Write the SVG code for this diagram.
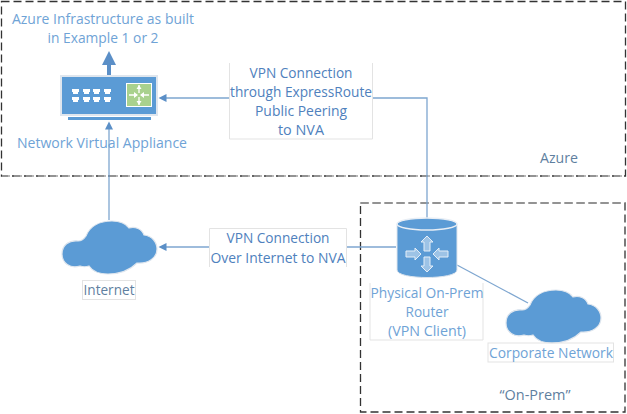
<svg xmlns="http://www.w3.org/2000/svg" width="627" height="414" viewBox="0 0 627 414">
<style>
text{font-family:"Open Sans","Liberation Sans",sans-serif;font-size:14.5px;text-anchor:middle}
.l{fill:#6fa3d6}
.d{fill:#4f81bd}
.g{fill:#5f7f9f}
.lf{fill:#fff}
.lb{fill:none;stroke:#e3e3e3;stroke-width:1}
.zone{fill:none;stroke-width:1.3;stroke-dasharray:8 4}
.c{fill:none;stroke:#7ea6d0;stroke-width:1.3}
.cloud{fill:#5b9bd5;stroke:#dfe6ee;stroke-width:1.2}
</style>
<defs>
<marker id="a" markerUnits="userSpaceOnUse" markerWidth="9" markerHeight="9" refX="0.500" refY="4.500" orient="auto"><path d="M8 0.500L0 4.500L8 8.500Z" fill="#5b8fc7" transform="rotate(180 4 4.500)"/></marker>
<path id="cl" class="cloud" d="M62 254C62 245 69 240 78 241C81 241 84 239 86 236C90 226 100 221 112 221C120 221 126 224 129 228C135 226 142 229 144 235C152 236 157 242 157 249C157 258 148 264 137 263C131 269 122 274 108 274C100 274 93 272 89 266C86 267 83 267 80 266C70 269 62 263 62 254Z"/>
</defs>
<g id="zones">
<rect class="zone" x="1.500" y="1.500" width="624" height="174.500" stroke="#333"/>
<rect class="zone" x="360.500" y="203" width="264.500" height="209" stroke="#333"/>
<path class="zone" d="M2 176H625M361 203H625" stroke="#a3a3a3"/>
</g>
<g id="connectors">
<path class="c" d="M109 220V129" marker-end="url(#a)"/>
<path class="c" d="M427 218V98H166" marker-end="url(#a)"/>
<path class="c" d="M396 247H166" marker-end="url(#a)"/>
<path class="c" d="M457 265L528 303"/>
<path d="M109 76V64" stroke="#5b8fc7" stroke-width="4" fill="none"/>
<path d="M102 65L109 51L116 65Z" fill="#5b8fc7"/>
</g>
<g id="label-vpn-er">
<rect class="lf" x="229.500" y="63" width="143" height="76"/>
<path class="lb" d="M229.500 63V139H372.500V63"/>
<text class="d" x="301" y="78" textLength="103" lengthAdjust="spacingAndGlyphs">VPN Connection</text>
<text class="d" x="301" y="97" textLength="142" lengthAdjust="spacingAndGlyphs">through ExpressRoute</text>
<text class="d" x="301" y="116" textLength="92" lengthAdjust="spacingAndGlyphs">Public Peering</text>
<text class="d" x="301" y="135" textLength="46" lengthAdjust="spacingAndGlyphs">to NVA</text>
</g>
<g id="label-vpn-inet">
<rect class="lf" x="209.500" y="228.500" width="137" height="38"/>
<path class="lb" d="M209.500 267V228.500H346.500V267"/>
<text class="d" x="278" y="243" textLength="103" lengthAdjust="spacingAndGlyphs">VPN Connection</text>
<text class="d" x="278" y="263" textLength="135" lengthAdjust="spacingAndGlyphs">Over Internet to NVA</text>
</g>
<g id="azure-title">
<text class="l" x="103" y="24" textLength="182" lengthAdjust="spacingAndGlyphs">Azure Infrastructure as built</text>
<text class="l" x="103" y="43" textLength="111" lengthAdjust="spacingAndGlyphs">in Example 1 or 2</text>
<text class="g" x="559" y="163" textLength="38" lengthAdjust="spacingAndGlyphs">Azure</text>
</g>
<g id="nva">
<path d="M68 118.500H151" stroke="#5b9bd5" stroke-width="3"/>
<rect x="61" y="76" width="96" height="39" fill="#5b9bd5" stroke="#dfe6ee" stroke-width="2"/>
<g fill="#fff">
<path d="M72 89h7v3h-1v2h-5v-2h-1zM83 89h7v3h-1v2h-5v-2h-1zM93 89h7v3h-1v2h-5v-2h-1zM104 89h7v3h-1v2h-5v-2h-1z"/>
<path d="M72 97h7v3h-1v2h-5v-2h-1zM83 97h7v3h-1v2h-5v-2h-1zM93 97h7v3h-1v2h-5v-2h-1zM104 97h7v3h-1v2h-5v-2h-1z"/>
</g>
<rect x="126.500" y="83.500" width="25" height="23" fill="#a9d18e" stroke="#fff"/>
<path d="M139 85v8M139 97v8M129 95h8M141 95h8" stroke="#fff" stroke-width="1.300"/>
<path d="M136.500 89l2.500-4 2.500 4zM136.500 101l2.500 4 2.500-4zM134 92l4 3-4 3zM144 92l-4 3 4 3z" fill="#fff"/>
<text class="l" x="102" y="148" textLength="170" lengthAdjust="spacingAndGlyphs">Network Virtual Appliance</text>
</g>
<g id="internet">
<use href="#cl"/>
<rect class="lb" x="82.500" y="280.500" width="53" height="19"/>
<text class="g" x="109" y="295" textLength="51" lengthAdjust="spacingAndGlyphs">Internet</text>
</g>
<g id="router">
<path d="M397 224V270C397 280 457 280 457 270V224Z" fill="#5b9bd5" stroke="#dfe6ee"/>
<ellipse cx="427" cy="224" rx="30" ry="6" fill="#5b9bd5" stroke="#e8eef5" stroke-width="1.500"/>
<g fill="#9dc3e6" stroke="#e4eef8" stroke-width="1">
<path d="M427 236l6 6h-3v9h-6v-9h-3z"/>
<path d="M427 272l6-6h-3v-9h-6v9h-3z"/>
<path d="M421 254l-6-6v3h-9v6h9v3z"/>
<path d="M433 254l6-6v3h9v6h-9v3z"/>
</g>
<path class="lb" d="M370 283V340H483V283"/>
<text class="l" x="427" y="298" textLength="113" lengthAdjust="spacingAndGlyphs">Physical On-Prem</text>
<text class="l" x="427" y="317" textLength="43" lengthAdjust="spacingAndGlyphs">Router</text>
<text class="l" x="427" y="336" textLength="78" lengthAdjust="spacingAndGlyphs">(VPN Client)</text>
</g>
<g id="corporate">
<use href="#cl" transform="translate(444,69)"/>
<rect class="lb" x="488" y="343" width="125.500" height="19"/>
<text class="l" x="551" y="358" textLength="124" lengthAdjust="spacingAndGlyphs">Corporate Network</text>
</g>
<g id="onprem-title">
<text class="g" x="535" y="400" textLength="71" lengthAdjust="spacingAndGlyphs">“On-Prem”</text>
</g>
</svg>
